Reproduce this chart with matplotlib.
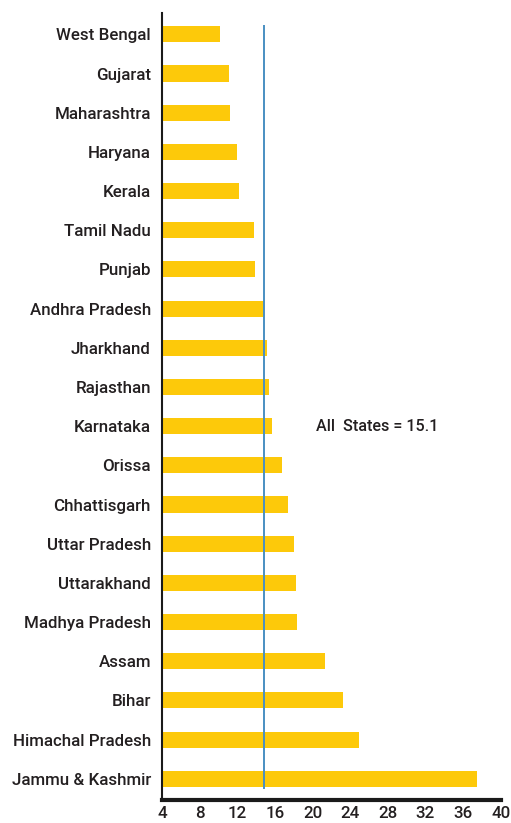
import matplotlib
matplotlib.use("Agg")
import matplotlib.pyplot as plt

states = ["West Bengal", "Gujarat", "Maharashtra", "Haryana", "Kerala",
          "Tamil Nadu", "Punjab", "Andhra Pradesh", "Jharkhand", "Rajasthan",
          "Karnataka", "Orissa", "Chhattisgarh", "Uttar Pradesh", "Uttarakhand",
          "Madhya Pradesh", "Assam", "Bihar", "Himachal Pradesh", "Jammu & Kashmir"]
values = [10.2, 11.1, 11.2, 12.0, 12.2,
          13.8, 13.9, 14.8, 15.2, 15.4,
          15.7, 16.8, 17.4, 18.0, 18.2,
          18.3, 21.3, 23.2, 24.9, 37.5]
all_states = 14.8
all_label = "All  States = 15.1"
xticks = [4, 8, 12, 16, 20, 24, 28, 32, 36, 40]

plt.rcParams['font.family'] = ['Roboto', 'DejaVu Sans']
text_col = '#231f20'

fig = plt.figure(figsize=(5.11, 8.23), dpi=100)
ax = fig.add_axes([0.317, 0.028, 0.663, 0.956])

pos = list(range(len(states)))
ax.barh(pos, [v - 4 for v in values], left=4, height=0.41, color='#fdc90a')
ax.vlines(all_states, -0.25, len(states) - 0.75, color='#4a8fc2', lw=1.4)
ax.text(20.4, 10, all_label, va='center', ha='left', fontsize=11.6,
        fontweight=500, color=text_col)

ax.set_xlim(4, 40)
ax.set_ylim(len(states) - 0.46, -0.54)
ax.set_yticks(pos)
ax.set_yticklabels(states, fontsize=12.2, fontweight=500, color=text_col)
ax.set_xticks(xticks)
ax.set_xticklabels([str(t) for t in xticks], fontsize=12.2, fontweight=500,
                   color=text_col)
ax.tick_params(axis='both', length=0)
ax.tick_params(axis='y', pad=8)
ax.tick_params(axis='x', pad=4)

for s in ['top', 'right']:
    ax.spines[s].set_visible(False)
ax.spines['left'].set_linewidth(1.5)
ax.spines['left'].set_color('#1a1a1a')
ax.spines['bottom'].set_linewidth(3)
ax.spines['bottom'].set_color('#1a1a1a')

fig.savefig("out.png", dpi=100)
